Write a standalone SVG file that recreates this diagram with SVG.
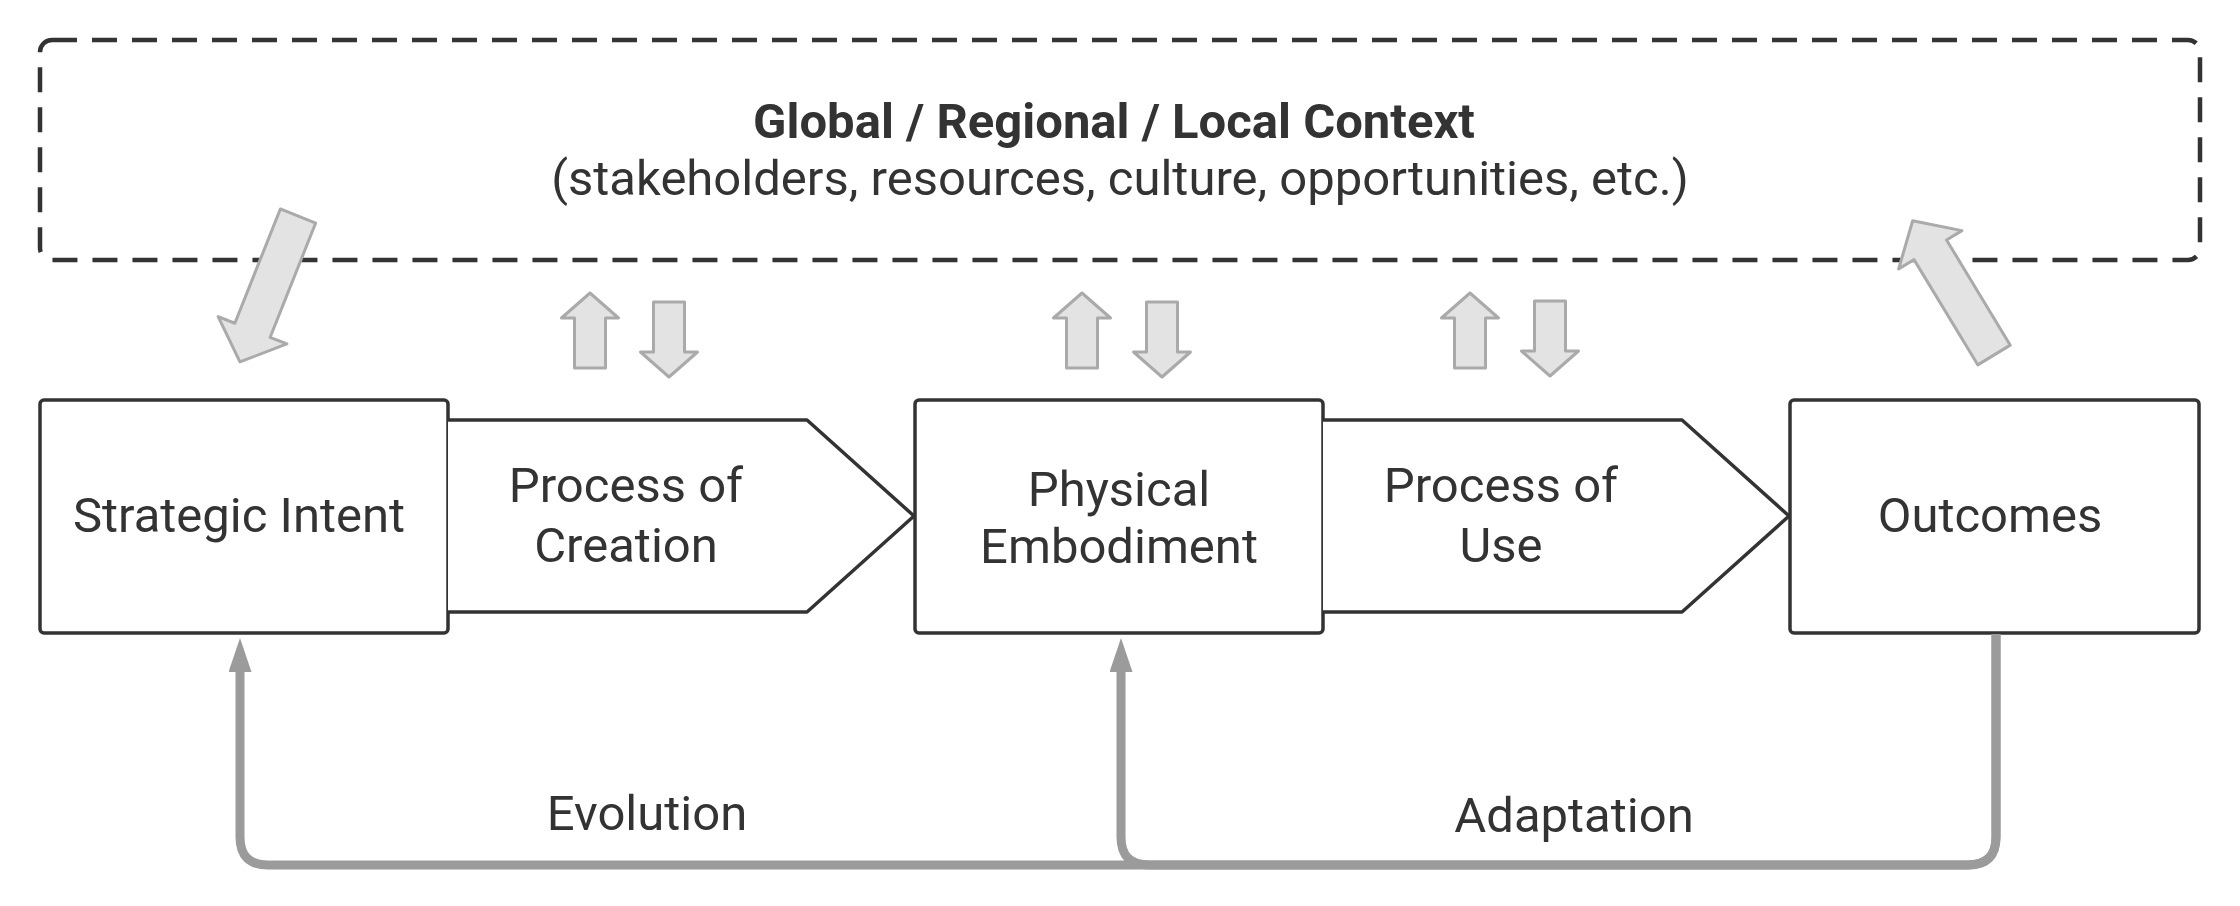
<svg xmlns="http://www.w3.org/2000/svg" width="2240" height="906" viewBox="0 0 2240 906">
<defs>
<style>
.t{font-family:Roboto,"Liberation Sans",Arial,sans-serif;fill:#333;text-anchor:middle;font-size:49px}
.b{font-weight:bold}
.box{fill:#fff;stroke:#333;stroke-width:3.5;stroke-linejoin:round}
.blk{fill:#e3e3e3;stroke:#aaa;stroke-width:3;stroke-linejoin:round}
.con{fill:none;stroke:#9b9b9b;stroke-width:9}
</style>
<marker id="ah" viewBox="0 0 34 23" refX="1" refY="11.5" markerWidth="34" markerHeight="23" markerUnits="userSpaceOnUse" orient="auto">
<path d="M0,0 L34,11.5 L0,23 Z" fill="#9b9b9b"/>
</marker>
<path id="big" d="M0,-19 L123,-19 L123,-37 L157,0 L123,37 L123,19 L0,19 Z"/>
<path id="up" d="M-15.5,75 L-15.5,25 L-28.5,25 L0,0 L28.5,25 L15.5,25 L15.5,75 Z"/>
</defs>
<rect width="2240" height="906" fill="#fff"/>

<g id="context">
<rect x="40" y="40" width="2160" height="220" rx="12" fill="none" stroke="#333" stroke-width="4.5" stroke-dasharray="25 15"/>
<text class="t b" x="1114" y="138">Global / Regional / Local Context</text>
<text class="t" x="1120" y="195">(stakeholders, resources, culture, opportunities, etc.)</text>
</g>

<g id="strategic-intent">
<rect class="box" x="40" y="400" width="408" height="233" rx="4"/>
<text class="t" x="239" y="532">Strategic Intent</text>
</g>

<g id="process-of-creation">
<path class="box" d="M448,420 L807,420 L914,516 L807,612 L448,612"/>
<text class="t" x="626" y="502">Process of</text>
<text class="t" x="626" y="562">Creation</text>
</g>

<g id="physical-embodiment">
<rect class="box" x="915" y="400" width="408" height="233" rx="4"/>
<text class="t" x="1119" y="506">Physical</text>
<text class="t" x="1119" y="563">Embodiment</text>
</g>

<g id="process-of-use">
<path class="box" d="M1323,420 L1682,420 L1789,516 L1682,612 L1323,612"/>
<text class="t" x="1501" y="502">Process of</text>
<text class="t" x="1501" y="562">Use</text>
</g>

<g id="outcomes">
<rect class="box" x="1790" y="400" width="409" height="233" rx="4"/>
<text class="t" x="1990" y="532">Outcomes</text>
</g>

<g id="context-arrows">
<use href="#big" class="blk" transform="translate(298,216) rotate(111.7)"/>
<use href="#big" class="blk" transform="translate(1994,355) rotate(-121.2)"/>
<use href="#up" class="blk" transform="translate(590,293)"/>
<use href="#up" class="blk" transform="translate(669,377) rotate(180)"/>
<use href="#up" class="blk" transform="translate(1082,293)"/>
<use href="#up" class="blk" transform="translate(1162,377) rotate(180)"/>
<use href="#up" class="blk" transform="translate(1470,293)"/>
<use href="#up" class="blk" transform="translate(1550,376) rotate(180)"/>
</g>

<g id="connectors">
<path class="con" d="M1996,634 L1996,837 Q1996,865 1968,865 L268,865 Q240,865 240,837 L240,671" marker-end="url(#ah)"/>
<path class="con" d="M1996,634 L1996,837 Q1996,865 1968,865 L1149,865 Q1121,865 1121,837 L1121,671" marker-end="url(#ah)"/>
<text class="t" x="647" y="830">Evolution</text>
<text class="t" x="1574" y="832">Adaptation</text>
</g>
</svg>
